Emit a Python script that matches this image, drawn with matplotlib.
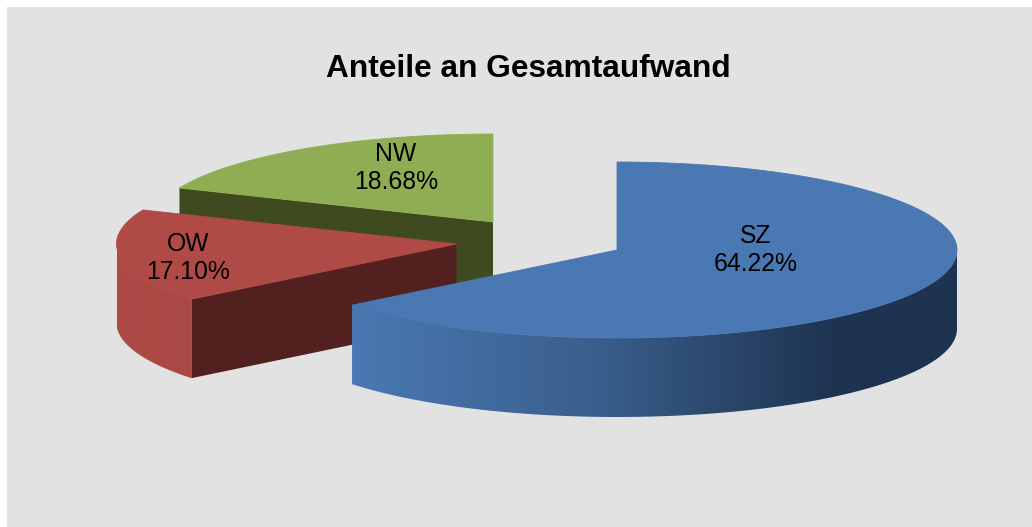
import numpy as np
from matplotlib import pyplot as plt
from matplotlib.colors import LinearSegmentedColormap
from matplotlib.patches import Polygon, Rectangle

labels = ['SZ', 'OW', 'NW']
shares = [64.22, 17.10, 18.68]
top_colors = ['#4a78b2', '#b04a47', '#8fae54']
side_colors = ['#1e3350', '#52201e', '#404a20']
label_pos = [(756, 250), (188, 258), (396, 168)]

# slice centres after the explosion, in pixels
centres = [(617, 250), (456.5, 244), (493, 222)]
RX, RY = 340, 88
DEPTH = 79

W, H = 1032, 527
plt.rcParams['font.family'] = ['Liberation Sans', 'DejaVu Sans']

fig = plt.figure(figsize=(W / 100, H / 100), dpi=100, facecolor='white')
ax = fig.add_axes([0, 0, 1, 1])
ax.set_xlim(0, W)
ax.set_ylim(H, 0)
ax.axis('off')
ax.add_patch(Rectangle((7, 7), W - 7, H - 7, fc='#e2e2e2', ec='none', zorder=0))


def arc(centre, t0, t1):
    t = np.radians(np.linspace(t0, t1, 200))
    return np.column_stack([centre[0] + RX * np.sin(t), centre[1] - RY * np.cos(t)])


def wall(points):
    # outer wall below an arc
    return np.vstack([points, points[::-1] + [0, DEPTH]])


def quad(a, b):
    return np.array([a, b, np.add(b, [0, DEPTH]), np.add(a, [0, DEPTH])])


def top_face(c, t0, t1, color, z):
    # edge in the face colour closes the seam to the wall
    ax.add_patch(Polygon(np.vstack([[c], arc(c, t0, t1)]), fc=color, ec=color, lw=0.6, zorder=z))


def gradient_wall(points, cols, stops, z):
    cmap = LinearSegmentedColormap.from_list('w', list(zip(stops, cols)))
    x0, x1 = points[:, 0].min(), points[:, 0].max()
    y0, y1 = points[:, 1].min(), points[:, 1].max() + DEPTH
    im = ax.imshow(np.linspace(0, 1, 256).reshape(1, -1), cmap=cmap, vmin=0, vmax=1,
                   extent=(x0, x1, y1, y0), aspect='auto', zorder=z, interpolation='bilinear')
    p = Polygon(wall(points), closed=True, fc='none', ec='none', transform=ax.transData)
    ax.add_patch(p)
    im.set_clip_path(p)


angles = np.cumsum([0] + [s * 3.6 for s in shares])

# NW goes first, it sits at the back
t0, t1 = angles[2], angles[3]
c = centres[2]
ax.add_patch(Polygon(quad(arc(c, t0, t0)[0], c), fc=side_colors[2], ec='none', zorder=1))
top_face(c, t0, t1, top_colors[2], 2)

# OW
t0, t1 = angles[1], angles[2]
c = centres[1]
pts = arc(c, t0, 270)
gradient_wall(pts, ['#b04a47', '#a84844'], [0, 1], 3)
ax.add_patch(Polygon(quad(arc(c, t0, t0)[0], c), fc=side_colors[1], ec='none', zorder=3))
top_face(c, t0, t1, top_colors[1], 4)

# SZ in front
t0, t1 = angles[0], angles[1]
c = centres[0]
pts = arc(c, 90, t1)[::-1]
gradient_wall(pts, [top_colors[0], '#3a5f8d', side_colors[0], side_colors[0]], [0, 0.4, 0.8, 1], 5)
top_face(c, t0, t1, top_colors[0], 6)

ax.set_xlim(0, W)
ax.set_ylim(H, 0)

for name, share, pos in zip(labels, shares, label_pos):
    ax.text(pos[0], pos[1], f'{name}\n{share:.2f}%', ha='center', va='center',
            fontsize=17.8, linespacing=1.22, color='black', zorder=10)

ax.text(528, 69, 'Anteile an Gesamtaufwand', ha='center', va='center',
        fontsize=22.8, fontweight='bold', color='black', zorder=10)

fig.savefig('out.png', dpi=100, facecolor='white')
